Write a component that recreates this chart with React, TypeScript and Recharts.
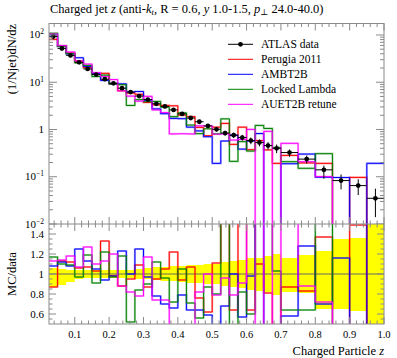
import React from 'react';
import { ComposedChart, Line, XAxis, YAxis, Scatter, ErrorBar, Area, ReferenceLine } from 'recharts';

// ---------- data ----------
const binEdges = [
  0.025, 0.05, 0.075, 0.1, 0.125, 0.15, 0.175, 0.2, 0.225, 0.25, 0.275, 0.3, 0.325, 0.35,
  0.375, 0.4, 0.425, 0.45, 0.475, 0.5, 0.525, 0.55, 0.575, 0.6, 0.625, 0.65, 0.675, 0.7,
  0.75, 0.8, 0.85, 0.9, 0.95, 1.0,
];
const atlasData = [
  93, 52, 37, 26.4, 19.1, 14.5, 11.6, 9.5, 7.5, 6.2, 5.1, 4.3, 3.5, 3.08, 2.6, 2.14, 1.75,
  1.46, 1.19, 1.01, 0.84, 0.757, 0.675, 0.583, 0.53, 0.457, 0.4, 0.325, 0.236, 0.14, 0.083,
  0.065, 0.035,
];
// data uncertainty band (relative lower / upper edge)
const bandLo = [
  0.87, 0.89, 0.92, 0.95, 0.96, 0.96, 0.96, 0.96, 0.96, 0.96, 0.95, 0.95, 0.94, 0.93, 0.93,
  0.92, 0.91, 0.91, 0.9, 0.9, 0.88, 0.87, 0.86, 0.84, 0.83, 0.82, 0.79, 0.82, 0.81, 0.65,
  0.65, 0.63, 0.4,
];
const bandHi = [
  1.06, 1.05, 1.04, 1.04, 1.04, 1.04, 1.04, 1.04, 1.04, 1.04, 1.05, 1.06, 1.07, 1.07, 1.08,
  1.08, 1.09, 1.09, 1.1, 1.1, 1.12, 1.13, 1.14, 1.16, 1.16, 1.18, 1.2, 1.16, 1.19, 1.23,
  1.35, 1.36, 1.6,
];
// MC / data ratios
const perugiaRatio = [
  0.87, 1.13, 1.12, 1.06, 1.07, 1.03, 1.33, 0.98, 0.88, 0.95, 1.09, 0.87, 0.95, 1.05, 1.22,
  0.94, 1.07, 0.76, 0.62, 1.11, 1.6, 0.64, 1.66, 0.64, 1.1, 0.81, 0.48, 0.87, 0.83, 1.37,
  0, 1.49, 0,
];
const ambtRatio = [
  1.08, 1.12, 1.08, 1.25, 1.13, 1.05, 0.94, 0.98, 1.23, 1.0, 1.25, 0.97, 0.78, 0.7, 0.66,
  0.79, 0.64, 0.64, 0.59, 0.19, 0.68, 1.0, 0.57, 0.98, 1.55, 0, 0, 0.58, 1.28, 0.7, 1.16,
  0, 5.5,
];
const lockedRatio = [
  1.17, 1.1, 1.09, 0.97, 1.19, 0.91, 1.22, 0.97, 1.18, 0.52, 0.84, 0.9, 1.12, 0.96, 0.72,
  1.05, 0.71, 0.56, 0.87, 0.8, 2.0, 0.28, 0.82, 0.6, 2.3, 2.3, 1.03, 0.64, 0.64, 2.2, 0, 0,
  0,
];
const auetRatio = [
  1.13, 1.14, 1.18, 1.07, 1.27, 1.1, 1.13, 1.2, 0.88, 0.82, 0.78, 1.17, 0.74, 0.74, 0.31,
  0.38, 0.46, 0.82, 1.0, 0.79, 0.96, 0.79, 0.91, 1.72, 0, 2.0, 0, 1.57, 0.88, 0.72, 0, 0, 0,
];

const xMajorTicks = [0.1, 0.2, 0.3, 0.4, 0.5, 0.6, 0.7, 0.8, 0.9, 1.0];
const xTickLabels = ['0.1', '0.2', '0.3', '0.4', '0.5', '0.6', '0.7', '0.8', '0.9', '1.0'];
const ratioMajorTicks = [0.6, 0.8, 1.0, 1.2, 1.4];
const ratioTickLabels = ['0.6', '0.8', '1', '1.2', '1.4'];
const logMajorTicks = [0.01, 0.1, 1, 10, 100];

const series = [
  { key: 'perugia', name: 'Perugia 2011', color: '#ff0000', ratio: perugiaRatio },
  { key: 'ambt', name: 'AMBT2B', color: '#0000ff', ratio: ambtRatio },
  { key: 'locked', name: 'Locked Lambda', color: '#008000', ratio: lockedRatio },
  { key: 'auet', name: 'AUET2B retune', color: '#ff00ff', ratio: auetRatio },
];

// ---------- geometry ----------
const W = 397;
const H = 358;
const L = 49;
const R = 384;
const T = 23.5;
const MID = 224;
const B = 324;
const XH = 20; // x-axis band height
const FRAME = '#8a8a8a';
const FONT = '"Liberation Serif", "DejaVu Serif", serif';

// ---------- tables ----------
const nBins = atlasData.length;
const rows = binEdges.map((x, i) => {
  const b = Math.min(i, nBins - 1);
  const row: any = { x };
  series.forEach((s) => {
    row[s.key] = Math.max(s.ratio[b] * atlasData[b], 1e-6);
    row[s.key + 'R'] = s.ratio[b];
  });
  row.band = [bandLo[b], bandHi[b]];
  return row;
});
const points = atlasData.map((v, i) => ({
  x: (binEdges[i] + binEdges[i + 1]) / 2,
  y: v,
  ex: (binEdges[i + 1] - binEdges[i]) / 2,
  ey: [v * (1 - bandLo[i]), v * (bandHi[i] - 1)],
}));

const xAllTicks: number[] = [];
for (let k = 2; k <= 50; k++) xAllTicks.push(Math.round(k * 2) / 100);
const logAllTicks: number[] = [];
for (let d = -2; d <= 1; d++) for (let k = 1; k <= 9; k++) logAllTicks.push(+(k * Math.pow(10, d)).toPrecision(3));
logAllTicks.push(100);
const ratioAllTicks: number[] = [];
for (let k = 11; k <= 29; k++) ratioAllTicks.push(k * 5 / 100);

const isXMajor = (v: number) => xMajorTicks.some((m) => Math.abs(m - v) < 1e-6);
const isRatioMajor = (v: number) => ratioMajorTicks.some((m) => Math.abs(m - v) < 1e-6);
const isLogMajor = (v: number) => logMajorTicks.some((m) => Math.abs(m - v) / m < 1e-6);

const XTickTop = (p: any) => {
  const x = p.x;
  const len = isXMajor(p.payload.value) ? 7 : 3.5;
  return (
    <g>
      <line x1={x} x2={x} y1={MID} y2={MID - len} stroke={FRAME} />
      <line x1={x} x2={x} y1={T} y2={T + len} stroke={FRAME} />
    </g>
  );
};
const XTickRatio = (p: any) => {
  const x = p.x;
  const v = p.payload.value;
  const major = isXMajor(v);
  const len = major ? 7 : 3.5;
  const idx = xMajorTicks.findIndex((m) => Math.abs(m - v) < 1e-6);
  return (
    <g>
      <line x1={x} x2={x} y1={MID} y2={MID + len} stroke={FRAME} />
      <line x1={x} x2={x} y1={B} y2={B - len} stroke={FRAME} />
      {major && (
        <text x={x} y={338} textAnchor="middle" fontSize={10.5} fontFamily={FONT} fill="#000">
          {xTickLabels[idx]}
        </text>
      )}
    </g>
  );
};
const logLabel = (v: number) => {
  const e = Math.round(Math.log10(v));
  if (e === 0) return <tspan>1</tspan>;
  return (
    <>
      <tspan>10</tspan>
      <tspan dy={-4} fontSize={7.5}>{e < 0 ? '\u2212' + -e : String(e)}</tspan>
    </>
  );
};
const YTickLog = (p: any) => {
  const y = p.y;
  const v = p.payload.value;
  const major = isLogMajor(v);
  const len = major ? 8 : 4;
  return (
    <g>
      <line x1={L} x2={L + len} y1={y} y2={y} stroke={FRAME} />
      <line x1={R} x2={R - len} y1={y} y2={y} stroke={FRAME} />
      {major && (
        <text x={44} y={y + 3.5} textAnchor="end" fontSize={11} fontFamily={FONT} fill="#000">
          {logLabel(v)}
        </text>
      )}
    </g>
  );
};
const YTickRatio = (p: any) => {
  const y = p.y;
  const v = p.payload.value;
  const major = isRatioMajor(v);
  const len = major ? 7 : 3.5;
  const idx = ratioMajorTicks.findIndex((m) => Math.abs(m - v) < 1e-6);
  return (
    <g>
      <line x1={L} x2={L + len} y1={y} y2={y} stroke={FRAME} />
      <line x1={R} x2={R - len} y1={y} y2={y} stroke={FRAME} />
      {major && (
        <text x={44} y={y + 3.5} textAnchor="end" fontSize={11} fontFamily={FONT} fill="#000">
          {ratioTickLabels[idx]}
        </text>
      )}
    </g>
  );
};

const Dot = (p: any) => <circle cx={p.cx} cy={p.cy} r={2.4} fill="#000" />;

const abs: React.CSSProperties = { position: 'absolute', left: 0, top: 0 };

const haloProps = { strokeOpacity: 0.3, strokeWidth: 2.2 };

export default function App() {
  return (
    <div style={{ position: 'absolute', left: 0, top: 0, width: W, height: H, background: '#fff' }}>
      <div style={abs}>
        <ComposedChart width={W} height={H} data={rows} margin={{ top: T, right: W - R, bottom: H - MID - XH, left: 0 }}>
          <XAxis
            dataKey="x"
            type="number"
            domain={[0.025, 1.0]}
            allowDataOverflow
            ticks={xAllTicks}
            interval={0}
            height={XH}
            axisLine={false}
            tickLine={false}
            tick={<XTickTop />}
          />
          <YAxis
            type="number"
            scale="log"
            domain={[0.01, 175]}
            allowDataOverflow
            ticks={logAllTicks}
            interval={0}
            width={L}
            axisLine={false}
            tickLine={false}
            tick={<YTickLog />}
          />
          {series.map((s) => (
            <Line
              key={s.key + 'h'}
              dataKey={s.key}
              type="stepAfter"
              stroke={s.color}
              {...haloProps}
              dot={false}
              activeDot={false}
              isAnimationActive={false}
            />
          ))}
          {series.map((s) => (
            <Line
              key={s.key}
              dataKey={s.key}
              name={s.name}
              type="stepAfter"
              stroke={s.color}
              strokeWidth={1}
              dot={false}
              activeDot={false}
              isAnimationActive={false}
            />
          ))}
          <Scatter data={points} dataKey="y" name="ATLAS data" shape={<Dot />} isAnimationActive={false}>
            <ErrorBar dataKey="ey" direction="y" width={0} stroke="#000" strokeWidth={1} />
            <ErrorBar dataKey="ex" direction="x" width={0} stroke="#000" strokeWidth={1} />
          </Scatter>
        </ComposedChart>
      </div>
      <div style={abs}>
        <ComposedChart width={W} height={H} data={rows} margin={{ top: MID, right: W - R, bottom: H - B - XH, left: 0 }}>
          <XAxis
            dataKey="x"
            type="number"
            domain={[0.025, 1.0]}
            allowDataOverflow
            ticks={xAllTicks}
            interval={0}
            height={XH}
            axisLine={false}
            tickLine={false}
            tick={<XTickRatio />}
          />
          <YAxis
            type="number"
            domain={[0.5, 1.5]}
            allowDataOverflow
            ticks={ratioAllTicks}
            interval={0}
            width={L}
            axisLine={false}
            tickLine={false}
            tick={<YTickRatio />}
          />
          <Area
            dataKey="band"
            type="stepAfter"
            fill="#ffff00"
            fillOpacity={1}
            stroke="none"
            isAnimationActive={false}
            activeDot={false}
          />
          <ReferenceLine y={1} stroke="#666" strokeWidth={1} />
          {series.map((s) => (
            <Line
              key={s.key + 'rh'}
              dataKey={s.key + 'R'}
              type="stepAfter"
              stroke={s.color}
              {...haloProps}
              dot={false}
              activeDot={false}
              isAnimationActive={false}
            />
          ))}
          {series.map((s) => (
            <Line
              key={s.key + 'r'}
              dataKey={s.key + 'R'}
              type="stepAfter"
              stroke={s.color}
              strokeWidth={1}
              dot={false}
              activeDot={false}
              isAnimationActive={false}
            />
          ))}
        </ComposedChart>
      </div>
      <svg style={{ ...abs, pointerEvents: 'none' }} width={W} height={H}>
        <rect x={L} y={T} width={R - L} height={B - T} fill="none" stroke={FRAME} strokeWidth={1} />
        <line x1={L} x2={R} y1={MID} y2={MID} stroke={FRAME} strokeWidth={1} />
        <text x={50} y={13} fontSize={12.5} fontFamily={FONT} fill="#000">
          Charged jet <tspan fontStyle="italic">z</tspan> (anti-<tspan fontStyle="italic">k</tspan>
          <tspan fontStyle="italic" fontSize={8.5} dy={2}>t</tspan>
          <tspan dy={-2}>, R = 0.6, </tspan>
          <tspan fontStyle="italic">y</tspan> 1.0-1.5, <tspan fontStyle="italic">p</tspan>
          <tspan fontSize={8.5} dy={2}>{'\u22A5'}</tspan>
          <tspan dy={-2}> 24.0-40.0)</tspan>
        </text>
        <text
          transform={`translate(16, 24) rotate(-90)`}
          textAnchor="end"
          fontSize={12.5}
          fontFamily={FONT}
          fill="#000"
        >
          (1/Njet)dN/dz
        </text>
        <text
          transform={`translate(16, 274) rotate(-90)`}
          textAnchor="middle"
          fontSize={12.5}
          fontFamily={FONT}
          fill="#000"
        >
          MC/data
        </text>
        <text x={R} y={355} textAnchor="end" fontSize={12.5} fontFamily={FONT} fill="#000">
          Charged Particle <tspan fontStyle="italic">z</tspan>
        </text>
        {/* legend */}
        <line x1={228} x2={253} y1={44.3} y2={44.3} stroke="#000" strokeWidth={1} />
        <circle cx={240.5} cy={44.3} r={2.4} fill="#000" />
        <text x={261} y={48} fontSize={11.5} fontFamily={FONT} fill="#000">ATLAS data</text>
        {series.map((s, i) => (
          <g key={s.key}>
            <line x1={228} x2={253} y1={59.3 + i * 15} y2={59.3 + i * 15} stroke={s.color} strokeWidth={1} />
            <text x={261} y={63 + i * 15} fontSize={11.5} fontFamily={FONT} fill="#000">{s.name}</text>
          </g>
        ))}
      </svg>
    </div>
  );
}
